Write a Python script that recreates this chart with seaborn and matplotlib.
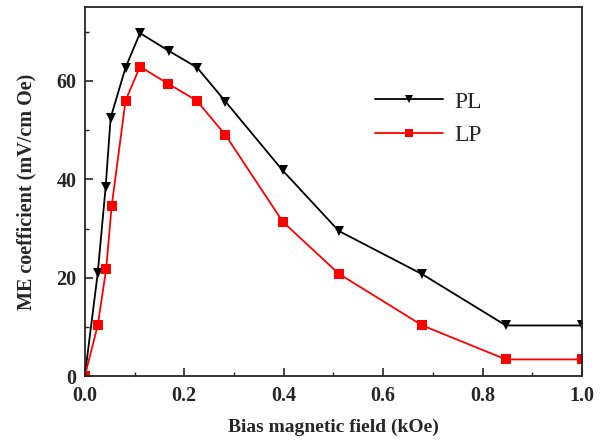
import numpy as np
import pandas as pd
import matplotlib
matplotlib.use("Agg")
import matplotlib.pyplot as plt
import seaborn as sns
from matplotlib.ticker import MultipleLocator

# ── Data ───────────────────────────────────────────────────────────────────────
field_pl = [0.0, 0.026, 0.042, 0.052, 0.082, 0.111, 0.169, 0.226, 0.283, 0.398, 0.511, 0.679, 0.847, 1.0]
me_pl = [0.0, 20.9, 38.5, 52.5, 62.7, 69.7, 66.1, 62.7, 55.8, 41.8, 29.5, 20.7, 10.3, 10.3]

field_lp = [0.0, 0.026, 0.043, 0.054, 0.082, 0.111, 0.168, 0.225, 0.283, 0.398, 0.511, 0.679, 0.847, 1.0]
me_lp = [0.0, 10.3, 21.8, 34.5, 56.0, 62.9, 59.4, 56.0, 49.0, 31.4, 20.8, 10.3, 3.4, 3.4]

df = pd.concat([
    pd.DataFrame({"field": field_pl, "me": me_pl, "sample": "PL"}),
    pd.DataFrame({"field": field_lp, "me": me_lp, "sample": "LP"}),
])

sns.set_style("ticks")
plt.rcParams["font.family"] = ["Liberation Serif", "DejaVu Serif"]

fig = plt.figure(figsize=(6.1, 4.42), dpi=100)
ax = fig.add_axes([0.139, 0.149, 0.815, 0.835])

sns.lineplot(data=df, x="field", y="me", hue="sample", style="sample",
             palette={"PL": "black", "LP": "red"},
             markers={"PL": "v", "LP": "s"}, dashes=False,
             markersize=7, linewidth=1.3, markeredgewidth=0,
             sort=False, ax=ax)

ax.set_xlim(0, 1.0)
ax.set_ylim(0, 75)
ax.xaxis.set_major_locator(MultipleLocator(0.2))
ax.xaxis.set_minor_locator(MultipleLocator(0.1))
ax.yaxis.set_major_locator(MultipleLocator(20))
ax.yaxis.set_minor_locator(MultipleLocator(10))
ax.tick_params(which="both", direction="in", top=False, right=False)
ax.tick_params(which="major", length=6, width=1.2, labelsize=14.5)
ax.tick_params(axis="x", which="major", pad=7)
ax.tick_params(axis="y", which="major", pad=6)
ax.tick_params(which="minor", length=3, width=1.0)
for lbl in ax.get_xticklabels() + ax.get_yticklabels():
    lbl.set_fontweight("bold")
for s in ax.spines.values():
    s.set_linewidth(1.3)
    s.set_visible(True)

ax.set_xlabel("Bias magnetic field (kOe)", fontsize=14, fontweight="bold", labelpad=9)
ax.set_ylabel("ME coefficient (mV/cm Oe)", fontsize=14.5, fontweight="bold", labelpad=14)

leg = ax.legend(title=None, frameon=False, fontsize=17, loc="upper left",
                bbox_to_anchor=(0.54, 0.83), handlelength=2.9, labelspacing=0.5,
                handletextpad=0.5, markerscale=0.9)

fig.savefig("out.png", dpi=100)
